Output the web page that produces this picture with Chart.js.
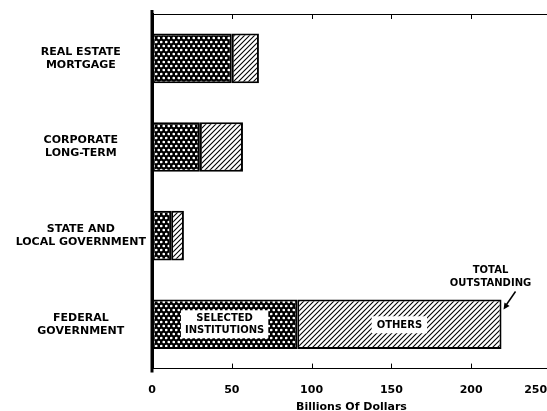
<!DOCTYPE html>
<html>
<head>
<meta charset="utf-8">
<script src="https://cdn.jsdelivr.net/npm/chart.js"></script>
<style>
html, body { margin: 0; padding: 0; background: #fff; overflow: hidden; }
#wrap { width: 547px; height: 411px; overflow: hidden; }
</style>
</head>
<body>
<div id="wrap"><canvas id="chart" width="551" height="411"></canvas></div>
<script>
// values, billions of dollars
var categories = [['REAL ESTATE', 'MORTGAGE'], ['CORPORATE', 'LONG-TERM'], ['STATE AND', 'LOCAL GOVERNMENT'], ['FEDERAL', 'GOVERNMENT']];
var selected = [50, 30, 12, 91];
var others = [17, 27, 8, 128];
var xTicks = [0, 50, 100, 150, 200, 250];
var seriesNames = ['SELECTED INSTITUTIONS', 'OTHERS'];

var fontName = '"DejaVu Sans", sans-serif';

// black with white dots (crosshatch look)
function dotPattern() {
    var c = document.createElement('canvas');
    c.width = 5; c.height = 8;
    var g = c.getContext('2d');
    g.fillStyle = '#000';
    g.fillRect(0, 0, 5, 8);
    g.fillStyle = '#fff';
    g.beginPath();
    g.arc(1.25, 2, 1.35, 0, Math.PI * 2);
    g.closePath();
    g.arc(3.75, 6, 1.35, 0, Math.PI * 2);
    g.fill();
    return g.createPattern(c, 'repeat');
}

// white with "/" diagonal lines
function hatchPattern() {
    var c = document.createElement('canvas');
    c.width = 5; c.height = 5;
    var g = c.getContext('2d');
    g.fillStyle = '#fff';
    g.fillRect(0, 0, 5, 5);
    g.strokeStyle = '#000';
    g.lineWidth = 1.1;
    g.beginPath();
    g.moveTo(0, 5); g.lineTo(5, 0);
    g.moveTo(-1, 1); g.lineTo(1, -1);
    g.moveTo(4, 6); g.lineTo(6, 4);
    g.stroke();
    return g.createPattern(c, 'repeat');
}

var decorations = {
    id: 'decorations',
    afterDatasetsDraw: function(chart) {
        var ctx = chart.ctx;
        var x = chart.scales.x, area = chart.chartArea;
        ctx.save();
        ctx.strokeStyle = '#000';
        ctx.lineWidth = 1;
        // tick marks pointing into the plot, top and bottom
        x.ticks.forEach(function(t) {
            var px = Math.round(x.getPixelForValue(t.value)) + 0.5;
            ctx.beginPath();
            ctx.moveTo(px, area.bottom); ctx.lineTo(px, area.bottom - 5);
            ctx.moveTo(px, area.top); ctx.lineTo(px, area.top + 5);
            ctx.stroke();
        });
        // left axis runs a little past both horizontal axes
        ctx.lineWidth = 3;
        ctx.beginPath();
        ctx.moveTo(area.left, area.top - 4);
        ctx.lineTo(area.left, area.bottom + 4);
        ctx.stroke();
        ctx.lineWidth = 1;

        var i = 3;
        var bar = chart.getDatasetMeta(0).data[i];
        var yc = bar.y;
        var top = bar.y - bar.height / 2;
        ctx.font = 'bold 10px ' + fontName;
        ctx.textAlign = 'center';
        ctx.textBaseline = 'middle';

        // selected institutions label
        var cx = x.getPixelForValue(selected[i] / 2);
        var w = ctx.measureText('INSTITUTIONS').width + 8;
        ctx.fillStyle = '#fff';
        ctx.fillRect(cx - w / 2, yc - 14, w, 28);
        ctx.fillStyle = '#000';
        ctx.fillText('SELECTED', cx, yc - 6);
        ctx.fillText('INSTITUTIONS', cx, yc + 6);

        // others label
        cx = x.getPixelForValue(selected[i] + others[i] / 2);
        w = ctx.measureText('OTHERS').width + 10;
        ctx.fillStyle = '#fff';
        ctx.fillRect(cx - w / 2, yc - 8, w, 17);
        ctx.fillStyle = '#000';
        ctx.fillText('OTHERS', cx, yc + 1);

        // total outstanding note with arrow
        var ex = x.getPixelForValue(selected[i] + others[i]);
        ctx.fillText('TOTAL', ex - 11, top - 29);
        ctx.fillText('OUTSTANDING', ex - 11, top - 16);
        var tipX = ex + 2, tipY = top + 10;
        var sx = tipX + 12, sy = tipY - 18;
        ctx.lineWidth = 1.5;
        ctx.beginPath();
        ctx.moveTo(sx, sy); ctx.lineTo(tipX + 3, tipY - 5);
        ctx.stroke();
        var a = Math.atan2(tipY - sy, tipX - sx);
        ctx.beginPath();
        ctx.moveTo(tipX, tipY);
        ctx.lineTo(tipX - 7 * Math.cos(a - 0.45), tipY - 7 * Math.sin(a - 0.45));
        ctx.lineTo(tipX - 7 * Math.cos(a + 0.45), tipY - 7 * Math.sin(a + 0.45));
        ctx.closePath();
        ctx.fill();
        ctx.restore();
    }
};

new Chart(document.getElementById('chart'), {
    type: 'bar',
    data: {
        labels: categories,
        datasets: [{
            label: seriesNames[0],
            data: selected,
            backgroundColor: dotPattern(),
            borderColor: '#000',
            borderWidth: 2,
            borderSkipped: false
        }, {
            label: seriesNames[1],
            data: others,
            backgroundColor: hatchPattern(),
            borderColor: '#000',
            borderWidth: 2,
            borderSkipped: false
        }]
    },
    options: {
        indexAxis: 'y',
        responsive: false,
        animation: false,
        events: [],
        layout: { padding: { top: 14, right: 0, bottom: -3, left: 0 } },
        datasets: { bar: { categoryPercentage: 1, barPercentage: 0.56 } },
        plugins: { legend: { display: false }, tooltip: { enabled: false } },
        scales: {
            x: {
                stacked: true,
                min: 0,
                max: 250,
                afterBuildTicks: function(s) { s.ticks = xTicks.map(function(v) { return { value: v }; }); },
                afterFit: function(s) { s.paddingLeft = 0; s.paddingRight = 0; },
                ticks: {
                    padding: 0,
                    color: '#000',
                    font: { family: fontName, size: 11, weight: 'bold' },
                    callback: function(v) { return v === 250 ? '250\u2007\u2007\u2007\u2007' : String(v); }
                },
                grid: { drawOnChartArea: false, drawTicks: true, tickLength: 15, tickColor: 'rgba(0,0,0,0)' },
                border: { display: true, color: '#000', width: 1 },
                title: {
                    display: true,
                    text: 'Billions Of Dollars',
                    color: '#000',
                    font: { family: fontName, size: 11, weight: 'bold' },
                    padding: { top: 4, bottom: 0 }
                }
            },
            x2: {
                axis: 'x',
                position: 'top',
                min: 0,
                max: 250,
                afterFit: function(s) { s.paddingLeft = 0; s.paddingRight = 0; },
                ticks: { display: false },
                grid: { drawOnChartArea: false, drawTicks: false },
                border: { display: true, color: '#000', width: 1 }
            },
            y: {
                stacked: true,
                afterFit: function(s) { s.width = 152; s.paddingTop = 0; s.paddingBottom = 0; },
                ticks: {
                    crossAlign: 'center',
                    padding: 6,
                    color: '#000',
                    font: { family: fontName, size: 11, weight: 'bold' }
                },
                grid: { display: false, drawTicks: false },
                border: { display: true, color: '#000', width: 3 }
            }
        }
    },
    plugins: [decorations]
});
</script>
</body>
</html>
